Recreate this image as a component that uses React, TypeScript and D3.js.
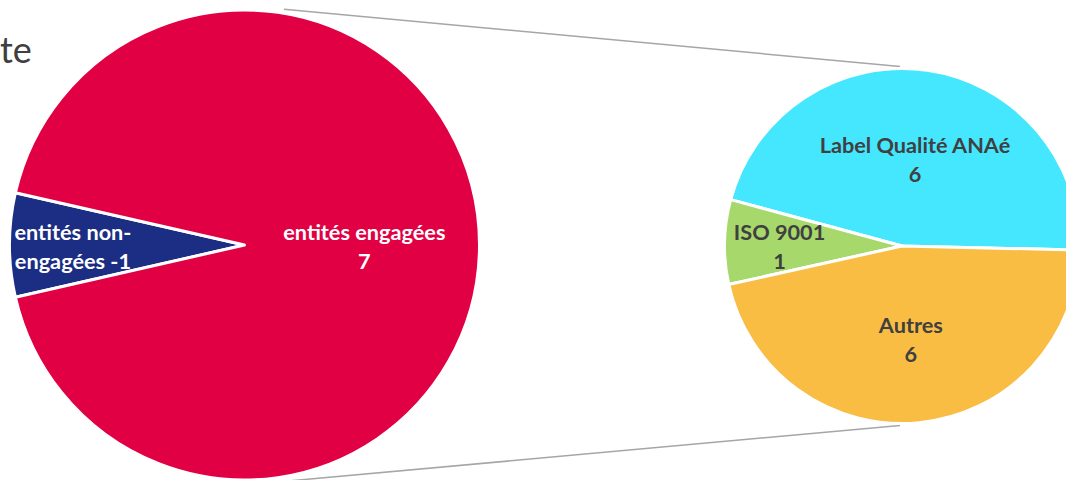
import React from 'react'
import * as d3 from 'd3'

// primary pie
const mainCategories = ['entités non-engagées', 'entités engagées']
const mainLabels = [['entités non-', 'engagées -1'], ['entités engagées', '7']]
const nonEngaged = 1

// secondary pie (detail of "entités engagées")
const subCategories = ['Label Qualité ANAé', 'ISO 9001', 'Autres']
const subValues = [6, 1, 6]

const W = 1066
const H = 480

const mainColors = ['#1B2E84', '#E10044']
const subColors = ['#45E7FF', '#A7D86B', '#F9BD43']
const font = 'Lato, "Open Sans", sans-serif'

type Slice = d3.PieArcDatum<number>

export default function App() {
  const main = { cx: 244.5, cy: 245, r: 235 }
  const sub = { cx: 902, cy: 246, r: 177.5 }

  const engaged = d3.sum(subValues)
  const mainValues = [nonEngaged, engaged]

  // non-engagées wedge centred on the left side
  const half = (Math.PI * 2 * nonEngaged) / d3.sum(mainValues) / 2
  const mainPie = d3.pie<number>().sort(null)
    .startAngle(-Math.PI / 2 - half)
    .endAngle(-Math.PI / 2 - half + Math.PI * 2)
  const mainArcs = mainPie(mainValues)

  // secondary pie goes counter-clockwise from (almost) 3 o'clock
  const start = Math.PI / 2 + (1.3 * Math.PI) / 180
  const subPie = d3.pie<number>().sort(null)
    .startAngle(start)
    .endAngle(start - Math.PI * 2)
  const subArcs = subPie(subValues)

  const mainArc = d3.arc<Slice>().innerRadius(0).outerRadius(main.r)
  const subArc = d3.arc<Slice>().innerRadius(0).outerRadius(sub.r)

  const mainLabelR = [0.73, 0.51]
  const subLabelR = [0.51, 0.69, 0.51]

  const labelPos = (d: Slice, cx: number, cy: number, r: number) => {
    const a = (d.startAngle + d.endAngle) / 2
    return [cx + Math.sin(a) * r, cy - Math.cos(a) * r]
  }

  // connector lines
  const deg = Math.PI / 180
  const topStart = [main.cx + Math.sin(9.5 * deg) * (main.r + 4), main.cy - Math.cos(9.5 * deg) * (main.r + 4)]
  const botStart = [main.cx + Math.sin(6 * deg) * (main.r + 4), main.cy + Math.cos(6 * deg) * (main.r + 4)]
  const topEnd = [sub.cx - 2, sub.cy - sub.r - 2]
  const botEnd = [sub.cx - 2, sub.cy + sub.r + 2]

  const fs = 21.7

  return (
    <svg width={W} height={H} style={{ position: 'absolute', left: 0, top: 0, background: '#fff' }}>
      <text x={0} y={63} fontFamily={font} fontSize={36} fill="#404040">te</text>

      <line x1={topStart[0]} y1={topStart[1]} x2={topEnd[0]} y2={topEnd[1]} stroke="#A6A6A6" strokeWidth={1.5} />
      <line x1={botStart[0]} y1={botStart[1]} x2={botEnd[0]} y2={botEnd[1]} stroke="#A6A6A6" strokeWidth={1.5} />

      <g transform={`translate(${main.cx},${main.cy})`}>
        {mainArcs.map((d, i) => (
          <path key={mainCategories[i]} d={mainArc(d) || ''} fill={mainColors[i]} stroke="#fff" strokeWidth={3} strokeLinejoin="round" />
        ))}
      </g>
      {mainArcs.map((d, i) => {
        const [x, y] = labelPos(d, main.cx, main.cy, main.r * mainLabelR[i])
        return (
          <text key={'ml' + i} x={x} y={y} textAnchor="middle" fontFamily={font} fontWeight="bold" fontSize={fs} fill="#fff">
            <tspan x={x} y={y - 5}>{mainLabels[i][0]}</tspan>
            <tspan x={x} y={y + 24}>{mainLabels[i][1]}</tspan>
          </text>
        )
      })}

      <g transform={`translate(${sub.cx},${sub.cy})`}>
        {subArcs.map((d, i) => (
          <path key={subCategories[i]} d={subArc(d) || ''} fill={subColors[i]} stroke="#fff" strokeWidth={3} strokeLinejoin="round" />
        ))}
      </g>
      {subArcs.map((d, i) => {
        const [x, y] = labelPos(d, sub.cx, sub.cy, sub.r * subLabelR[i])
        return (
          <text key={'sl' + i} x={x} y={y} textAnchor="middle" fontFamily={font} fontWeight="bold" fontSize={fs} fill="#404040">
            <tspan x={x} y={y - 3}>{subCategories[i]}</tspan>
            <tspan x={x} y={y + 26}>{subValues[i]}</tspan>
          </text>
        )
      })}
    </svg>
  )
}
